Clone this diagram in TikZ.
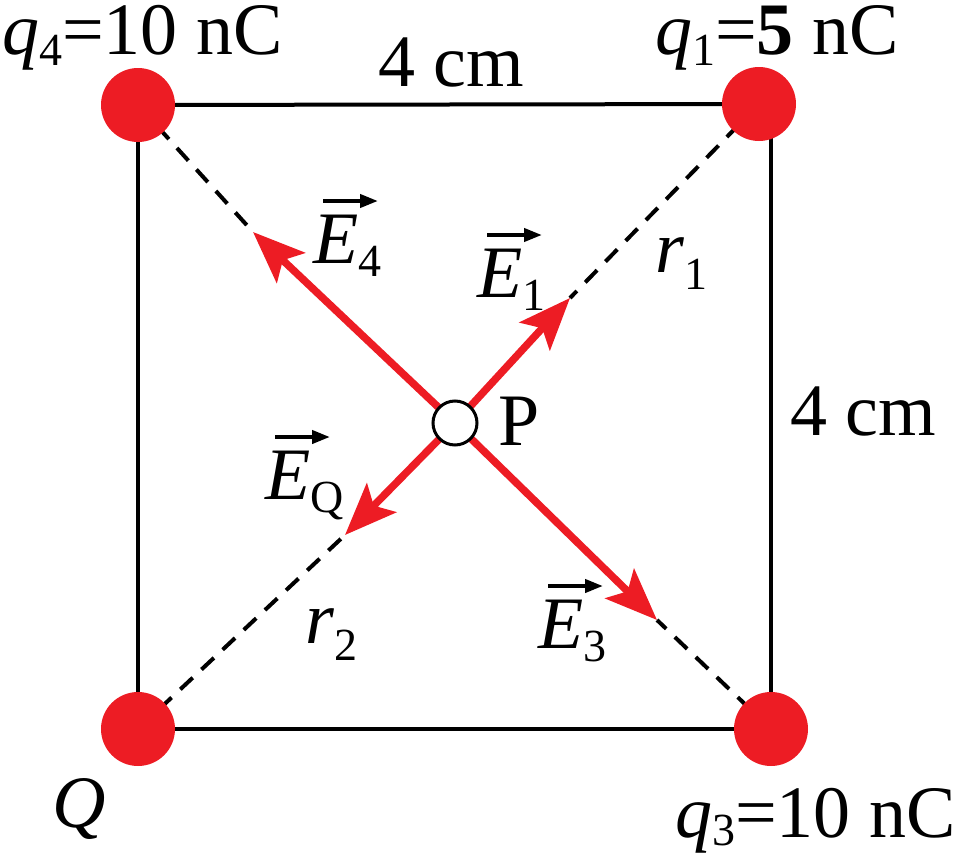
\documentclass[tikz,border=0pt]{standalone}
\usepackage{fontspec}
\setmainfont{LiberationSerif}[Extension=.ttf, UprightFont=*-Regular, ItalicFont=*-Italic, BoldFont=*-Bold, BoldItalicFont=*-BoldItalic]
\usetikzlibrary{arrows.meta}
\definecolor{chred}{HTML}{ED1C24}
\newcommand{\lowsub}[2]{\raisebox{-#1pt}{\fontsize{46}{46}\selectfont #2}}
\begin{document}
\begin{tikzpicture}[x=1pt,y=-1pt,
  lbl/.style={inner sep=0pt, anchor=base west, font=\fontsize{74}{80}\selectfont},
  side/.style={line width=4pt},
  dashline/.style={line width=4pt, dash pattern=on 17pt off 12pt},
  efield/.style={line width=7.5pt, chred, -{Stealth[length=52pt,width=41pt,inset=11pt]}},
  vecarrow/.style={line width=4pt, -{Triangle[length=18pt,width=13pt]}},
  charge/.style={circle, fill=chred, minimum size=74pt, inner sep=0pt},
  pointP/.style={circle, draw, line width=3pt, fill=white, minimum size=44pt, inner sep=0pt}]
\useasboundingbox (0,0) rectangle (962,854);
% corners
\coordinate (c4) at (138,105);
\coordinate (c1) at (759,104);
\coordinate (c3) at (771,729);
\coordinate (c2) at (138,729);
\coordinate (p) at (455,423);
% arrow tips
\coordinate (t4) at (253,232);
\coordinate (t1) at (570,298);
\coordinate (tQ) at (345,535);
\coordinate (t3) at (657,620);
% square sides
\draw[side] (c4) -- (c1);
\draw[side] (c1 -| c3) -- (c3) -- (c2) -- (c4);
% dashed diagonals
\draw[dashline] (c4) -- (t4);
\draw[dashline] (c1) -- (t1);
\draw[dashline] (c2) -- (tQ);
\draw[dashline] (c3) -- (t3);
% field arrows
\draw[efield] (p) -- (t4);
\draw[efield] (p) -- (t1);
\draw[efield] (p) -- (tQ);
\draw[efield] (p) -- (t3);
% charges
\node[charge] (q4) at (c4) {};
\node[charge] (q1) at (c1) {};
\node[charge] (q3) at (c3) {};
\node[charge] (Q) at (c2) {};
\node[pointP] (P) at (p) {};
% labels
\node[lbl] (lq4) at (2,54) {\textit{q}\lowsub{11}{4}=10 nC};
\node[lbl] (lq1) at (655,54) {\textit{q}\lowsub{11}{1}=\textbf{5} nC};
\node[lbl] (ltop) at (378,86) {4 cm};
\node[lbl] (lright) at (790,435) {4 cm};
\node[lbl] (lQ) at (52,827) {\textit{Q}};
\node[lbl] (lq3) at (675,837) {\textit{q}\lowsub{8}{3}=10 nC};
\node[lbl] (lP) at (498,445) {P};
\node[lbl] (lE4) at (313,263) {\textit{E}\lowsub{13}{4}};
\node[lbl] (lE1) at (477,297) {\textit{E}\lowsub{13}{1}};
\node[lbl] (lEQ) at (265,499) {\textit{E}\lowsub{13}{Q}};
\node[lbl] (lE3) at (538,648) {\textit{E}\lowsub{13}{3}};
\node[lbl] (lr1) at (655,272) {\textit{r}\lowsub{17}{1}};
\node[lbl] (lr2) at (305,643) {\textit{r}\lowsub{17}{2}};
% vector arrows over E
\draw[vecarrow] ([shift={(10,-62)}]lE4.base west) -- ++(55,0);
\draw[vecarrow] ([shift={(10,-62)}]lE1.base west) -- ++(55,0);
\draw[vecarrow] ([shift={(10,-62)}]lEQ.base west) -- ++(55,0);
\draw[vecarrow] ([shift={(10,-62)}]lE3.base west) -- ++(55,0);
\end{tikzpicture}
\end{document}
